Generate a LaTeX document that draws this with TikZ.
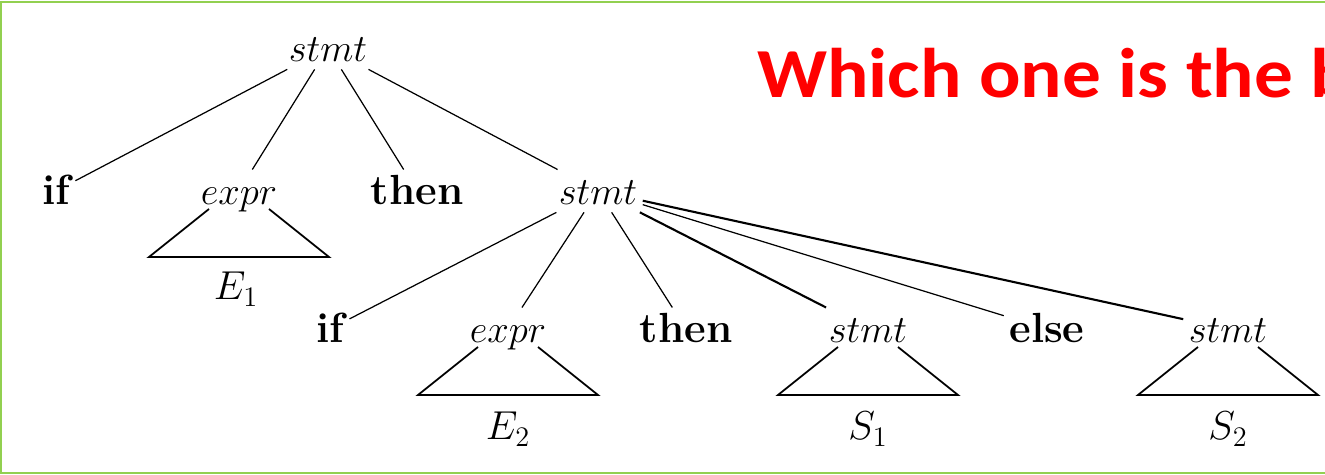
\RequirePackage{fix-cm}
\documentclass[tikz,border=0pt]{standalone}
\usepackage{amsmath}
\usepackage{fontspec}
\newfontfamily\calibri[FakeStretch=1.1]{Carlito}
\usepackage{tikz}

\definecolor{framegreen}{RGB}{146,208,80}

\tikzset{
  kw/.style={font=\fontsize{24}{28}\selectfont\bfseries, anchor=base, inner sep=3pt, text height=17pt, text depth=1pt},
  nt/.style={font=\fontsize{22}{26}\selectfont, anchor=base, inner sep=3pt, text height=17pt, text depth=1pt},
  yield/.style={font=\fontsize{23}{27}\selectfont, anchor=base},
  edge/.style={line width=0.7pt},
  heavy/.style={line width=1.2pt},
  subtree/.pic={\draw[line width=1pt] (-30,4) -- (-90,52) -- (90,52) -- (30,4);},
}

\begin{document}
\begin{tikzpicture}[x=0.02cm, y=-0.02cm]
                    \useasboundingbox (0,0) rectangle (1325,475);
                    \clip (0,0) rectangle (1325,475);
                    % Frame
                    \draw[framegreen, line width=1.2pt] (1330,2) -- (1,2) -- (1,473) -- (1330,473);
                    % Question
                    \node[anchor=base west, inner sep=0pt, text=red, font=\calibri\bfseries\fontsize{40}{48}\selectfont] (question) at (757,98) {Which one is the b};
                    % Nodes
                    \node[nt] (s0) at (328,62) {$stmt$};
                    \node[kw] (if1) at (56,205) {if};
                    \node[nt] (x1) at (239,205) {$expr$};
                    \node[kw] (th1) at (417,205) {then};
                    \node[nt] (s1) at (598,205) {$stmt$};
                    \node[yield] (E1) at (236,300) {$E_1$};
                    \node[kw] (if2) at (330,343) {if};
                    \node[nt] (x2) at (508,343) {$expr$};
                    \node[kw] (th2) at (686,343) {then};
                    \node[nt] (s2) at (868,343) {$stmt$};
                    \node[kw] (el) at (1047,343) {else};
                    \node[nt] (s3) at (1228,343) {$stmt$};
                    \node[yield] (E2) at (508,440) {$E_2$};
                    \node[yield] (S1) at (868,440) {$S_1$};
                    \node[yield] (S2) at (1228,440) {$S_2$};
                    % Subtrees
                    \pic at (x1.base) {subtree};
                    \pic at (x2.base) {subtree};
                    \pic at (s2.base) {subtree};
                    \pic at (s3.base) {subtree};
                    % Edges
                    \draw[edge] (s0) -- (if1);
                    \draw[edge] (s0) -- (x1);
                    \draw[edge] (s0) -- (th1);
                    \draw[edge] (s0) -- (s1);
                    \draw[edge] (s1) -- (if2);
                    \draw[edge] (s1) -- (x2);
                    \draw[edge] (s1) -- (th2);
                    \draw[heavy] (s1) -- (s2);
                    \draw[edge] (s1) -- (el);
                    \draw[heavy] (s1) -- (s3);
                \end{tikzpicture}
\end{document}
